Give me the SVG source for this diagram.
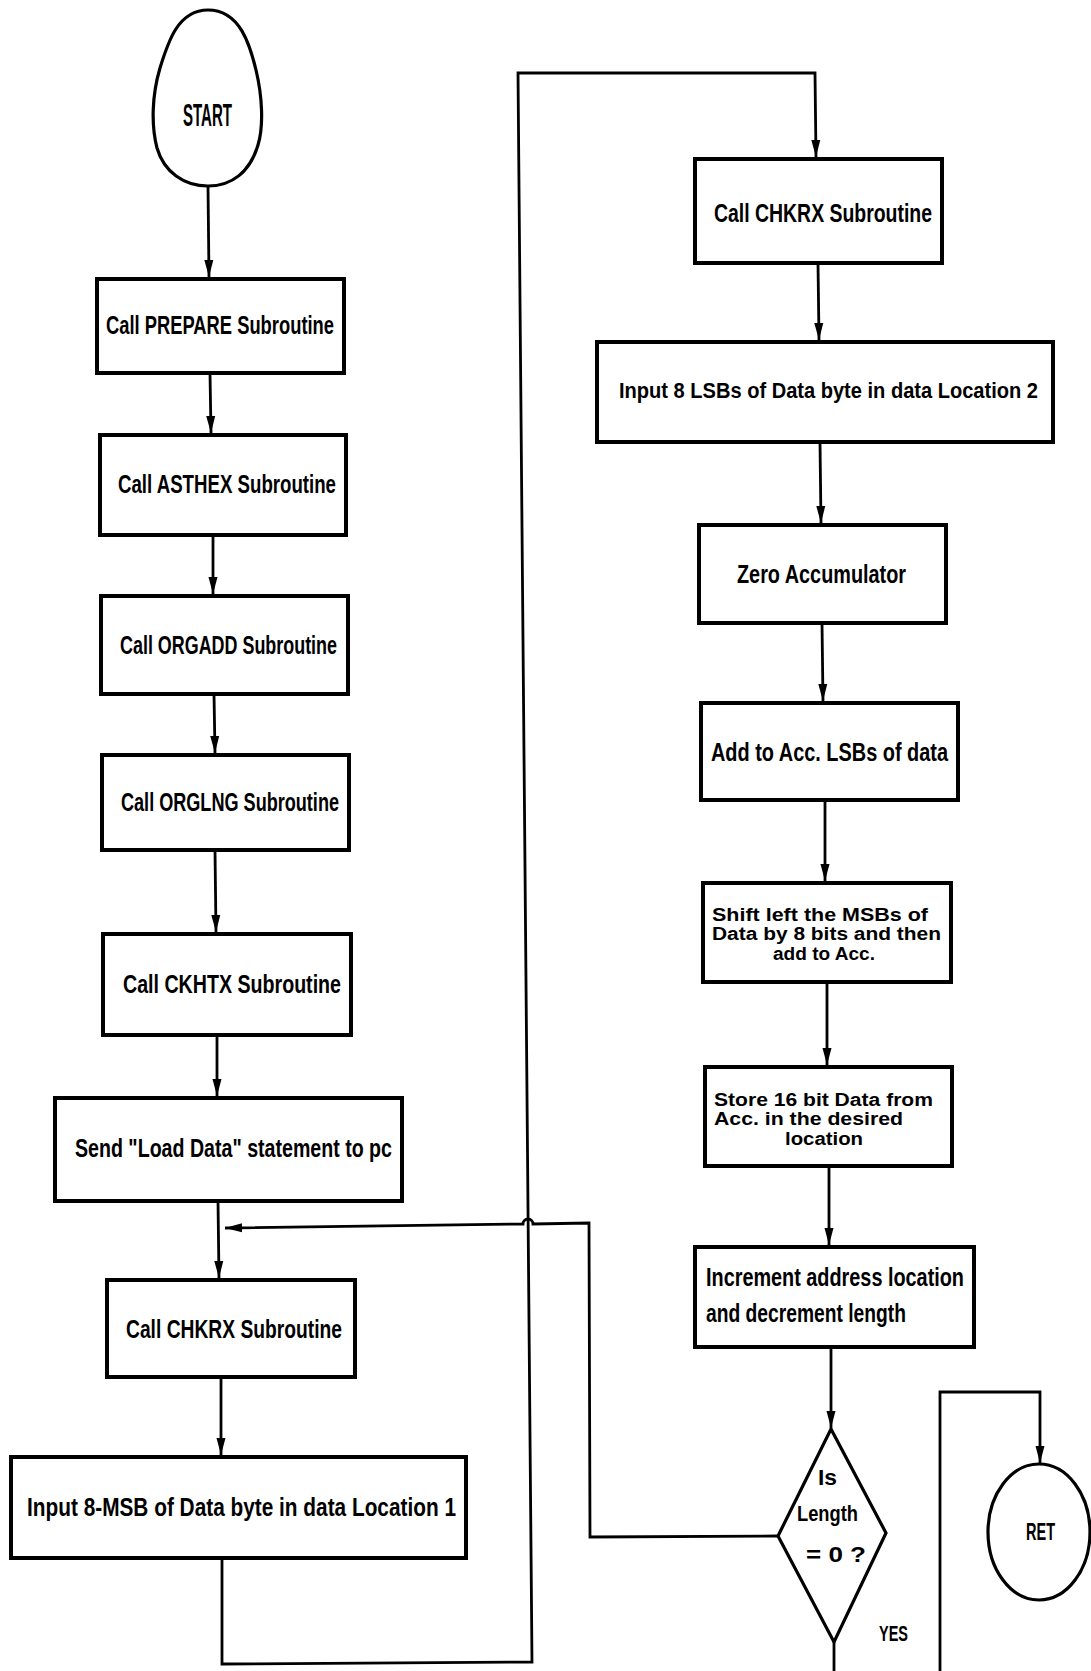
<svg xmlns="http://www.w3.org/2000/svg" width="1091" height="1671" viewBox="0 0 1091 1671" xml:space="preserve">
<style>
.box{fill:#fff;stroke:#000;stroke-width:4}
.term{fill:#fff;stroke:#000;stroke-width:3.2}
.con{fill:none;stroke:#000;stroke-width:2.8}
.t{font-family:"Liberation Sans","DejaVu Sans",sans-serif;font-weight:bold;font-size:25px;fill:#000}
.s{font-size:22px}
.m{font-size:17.5px}
</style>
<defs>
<marker id="ah" markerUnits="userSpaceOnUse" markerWidth="17" markerHeight="10" viewBox="0 0 17 10" refX="17" refY="5" orient="auto"><path d="M0,0.5 L17,5 L0,9.5 z" fill="#000"/></marker>
</defs>
<rect width="1091" height="1671" fill="#fff"/>
<g id="connectors">
<path class="con" d="M208,186 L209,277" marker-end="url(#ah)"/>
<path class="con" d="M210,373 L211,433" marker-end="url(#ah)"/>
<path class="con" d="M213,535 L213,594" marker-end="url(#ah)"/>
<path class="con" d="M214,694 L215,753" marker-end="url(#ah)"/>
<path class="con" d="M215,850 L216,932" marker-end="url(#ah)"/>
<path class="con" d="M217,1035 L217,1096" marker-end="url(#ah)"/>
<path class="con" d="M218,1201 L219,1278" marker-end="url(#ah)"/>
<path class="con" d="M221,1377 L221,1455" marker-end="url(#ah)"/>
<path class="con" d="M222,1558 L222,1664 L532,1662 L518,73 L815,73 L816,157" marker-end="url(#ah)"/>
<path class="con" d="M818,263 L819,340" marker-end="url(#ah)"/>
<path class="con" d="M820,442 L821,523" marker-end="url(#ah)"/>
<path class="con" d="M822,623 L823,701" marker-end="url(#ah)"/>
<path class="con" d="M825,800 L825,881" marker-end="url(#ah)"/>
<path class="con" d="M827,982 L827,1065" marker-end="url(#ah)"/>
<path class="con" d="M829,1166 L829,1245" marker-end="url(#ah)"/>
<path class="con" d="M831,1347 L831,1428" marker-end="url(#ah)"/>
<path class="con" d="M834,1642 L834,1671"/>
<path class="con" d="M778,1536 L590,1537 L589,1223 L533,1224 A5,5 0 0 0 523,1224 L225,1228" marker-end="url(#ah)"/>
<path class="con" d="M940,1671 L940,1392 L1040,1392 L1040,1463" marker-end="url(#ah)"/>
</g>
<g id="start">
<path class="term" d="M208,10 C240,10 250,45 256,70 C262,95 264,125 258,145 C250,172 232,186 208,186 C184,186 164,172 157,148 C151,125 152,95 160,68 C168,42 178,10 208,10 Z"/>
<text class="t" x="183" y="126" style="font-size:31px" textLength="49" lengthAdjust="spacingAndGlyphs">START</text>
</g>
<g id="prepare">
<rect class="box" x="97" y="279" width="247" height="94"/>
<text class="t" x="106" y="334" textLength="228" lengthAdjust="spacingAndGlyphs">Call PREPARE Subroutine</text>
</g>
<g id="asthex">
<rect class="box" x="100" y="435" width="246" height="100"/>
<text class="t" x="118" y="493" textLength="218" lengthAdjust="spacingAndGlyphs">Call ASTHEX Subroutine</text>
</g>
<g id="orgadd">
<rect class="box" x="101" y="596" width="247" height="98"/>
<text class="t" x="120" y="654" textLength="217" lengthAdjust="spacingAndGlyphs">Call ORGADD Subroutine</text>
</g>
<g id="orglng">
<rect class="box" x="102" y="755" width="247" height="95"/>
<text class="t" x="121" y="811" textLength="218" lengthAdjust="spacingAndGlyphs">Call ORGLNG Subroutine</text>
</g>
<g id="ckhtx">
<rect class="box" x="103" y="934" width="248" height="101"/>
<text class="t" x="123" y="993" textLength="218" lengthAdjust="spacingAndGlyphs">Call CKHTX  Subroutine</text>
</g>
<g id="senddata">
<rect class="box" x="55" y="1098" width="347" height="103"/>
<text class="t" x="75" y="1157" textLength="317" lengthAdjust="spacingAndGlyphs">Send "Load Data" statement to pc</text>
</g>
<g id="chkrx1">
<rect class="box" x="107" y="1280" width="248" height="97"/>
<text class="t" x="126" y="1338" textLength="216" lengthAdjust="spacingAndGlyphs">Call CHKRX  Subroutine</text>
</g>
<g id="inputmsb">
<rect class="box" x="11" y="1457" width="455" height="101"/>
<text class="t" x="27" y="1516" textLength="429" lengthAdjust="spacingAndGlyphs">Input 8-MSB of Data byte in data Location 1</text>
</g>
<g id="chkrx2">
<rect class="box" x="695" y="159" width="247" height="104"/>
<text class="t" x="714" y="222" textLength="218" lengthAdjust="spacingAndGlyphs">Call CHKRX  Subroutine</text>
</g>
<g id="inputlsb">
<rect class="box" x="597" y="342" width="456" height="100"/>
<text class="t" x="619" y="398" style="font-size:22px" textLength="419" lengthAdjust="spacingAndGlyphs">Input 8 LSBs of Data byte in data Location 2</text>
</g>
<g id="zeroacc">
<rect class="box" x="699" y="525" width="247" height="98"/>
<text class="t" x="737" y="583" textLength="169" lengthAdjust="spacingAndGlyphs">Zero  Accumulator</text>
</g>
<g id="addacc">
<rect class="box" x="701" y="703" width="257" height="97"/>
<text class="t" x="711" y="761" textLength="237" lengthAdjust="spacingAndGlyphs">Add to Acc. LSBs of data</text>
</g>
<g id="shiftleft">
<rect class="box" x="703" y="883" width="248" height="99"/>
<text class="t m" x="712" y="921" textLength="216" lengthAdjust="spacingAndGlyphs">Shift left the MSBs of</text>
<text class="t m" x="712" y="940" textLength="229" lengthAdjust="spacingAndGlyphs">Data by 8 bits and then</text>
<text class="t m" x="773" y="960" textLength="102" lengthAdjust="spacingAndGlyphs">add to Acc.</text>
</g>
<g id="store">
<rect class="box" x="705" y="1067" width="247" height="99"/>
<text class="t m" x="714" y="1106" textLength="219" lengthAdjust="spacingAndGlyphs">Store 16 bit Data from</text>
<text class="t m" x="714" y="1125" textLength="189" lengthAdjust="spacingAndGlyphs">Acc. in the desired</text>
<text class="t m" x="785" y="1145" textLength="78" lengthAdjust="spacingAndGlyphs">location</text>
</g>
<g id="increment">
<rect class="box" x="695" y="1247" width="279" height="100"/>
<text class="t" x="706" y="1286" textLength="258" lengthAdjust="spacingAndGlyphs">Increment address location</text>
<text class="t" x="706" y="1322" textLength="200" lengthAdjust="spacingAndGlyphs">and decrement length</text>
</g>
<g id="decision">
<path class="term" d="M831,1429 L886,1533 L834,1642 L778,1536 Z"/>
<text class="t s" x="818" y="1485" textLength="19" lengthAdjust="spacingAndGlyphs">Is</text>
<text class="t s" x="797" y="1521" textLength="61" lengthAdjust="spacingAndGlyphs">Length</text>
<text class="t s" x="806" y="1562" textLength="60" lengthAdjust="spacingAndGlyphs">= 0  ?</text>
<text class="t s" x="879" y="1641" textLength="29" lengthAdjust="spacingAndGlyphs">YES</text>
</g>
<g id="ret">
<ellipse class="term" cx="1039" cy="1532" rx="51" ry="68"/>
<text class="t" x="1026" y="1540" style="font-size:24px" textLength="29" lengthAdjust="spacingAndGlyphs">RET</text>
</g>
</svg>
